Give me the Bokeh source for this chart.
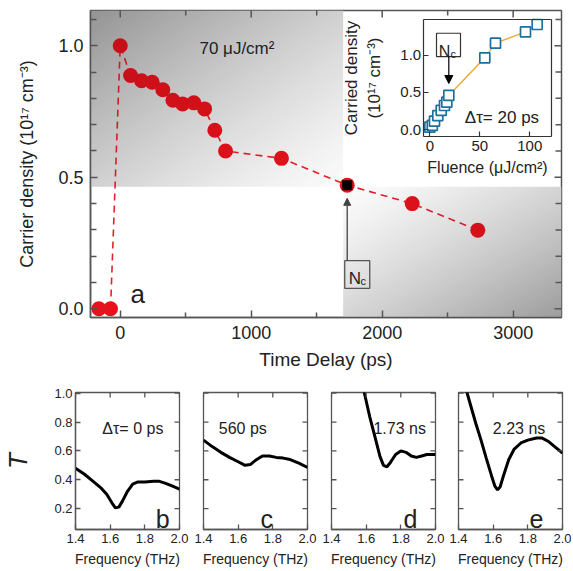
import numpy as np
from bokeh.plotting import figure
from bokeh.models import (LinearAxis, FixedTicker, PrintfTickFormatter, Range1d,
                          Label, Arrow, NormalHead)
from bokeh.layouts import column, row
from bokeh.embed import file_html
from bokeh.resources import INLINE

FONT = "Liberation Sans"
INK = "#222222"
FRAME = "#555555"

# ---------------- data ----------------
delay_ps = [-163, -74, 0, 79, 163, 244, 325, 402, 476, 562, 644, 722, 804, 1231, 1733, 2229, 2730]
carrier_density = [0.0, 0.0, 1.0, 0.887, 0.867, 0.861, 0.833, 0.793, 0.779, 0.783, 0.760,
                   0.679, 0.600, 0.572, 0.470, 0.400, 0.299]
nc_delay = [1733]
nc_density = [0.470]

fluence = [0, 2.5, 4.7, 8, 11.4, 14.7, 17, 19, 55, 65.7, 95.7, 107.4]
inset_density = [0.035, 0.06, 0.115, 0.19, 0.26, 0.325, 0.37, 0.46, 0.964, 1.16, 1.31, 1.41]

main_x_ticks = [0, 1000, 2000, 3000]
main_x_minor = [500, 1500, 2500]
main_y_ticks = [0.0, 0.5, 1.0]
main_y_minor = [0.1, 0.2, 0.3, 0.4, 0.6, 0.7, 0.8, 0.9, 1.1]
inset_x_ticks = [0, 50, 100]
inset_y_ticks = [0.0, 0.5, 1.0]

freq_b = [1.40, 1.45, 1.50, 1.55, 1.58, 1.61, 1.63, 1.65, 1.67, 1.70, 1.73, 1.76, 1.80, 1.85, 1.88, 1.92, 1.96, 2.00]
T_b = [0.48, 0.44, 0.39, 0.34, 0.30, 0.24, 0.205, 0.21, 0.25, 0.32, 0.37, 0.385, 0.385, 0.39, 0.39, 0.375, 0.355, 0.335]
freq_c = [1.40, 1.45, 1.50, 1.55, 1.60, 1.64, 1.67, 1.70, 1.74, 1.78, 1.82, 1.86, 1.90, 1.95, 2.00]
T_c = [0.675, 0.63, 0.59, 0.555, 0.525, 0.50, 0.505, 0.535, 0.565, 0.565, 0.555, 0.55, 0.54, 0.515, 0.485]
freq_d = [1.56, 1.59, 1.62, 1.65, 1.68, 1.70, 1.72, 1.74, 1.77, 1.80, 1.83, 1.86, 1.89, 1.92, 1.95, 2.00]
T_d = [1.12, 1.0, 0.84, 0.70, 0.56, 0.50, 0.49, 0.52, 0.575, 0.60, 0.59, 0.565, 0.555, 0.565, 0.575, 0.575]
freq_e = [1.43, 1.45, 1.50, 1.53, 1.56, 1.59, 1.61, 1.625, 1.64, 1.66, 1.69, 1.72, 1.76, 1.80, 1.85, 1.88, 1.92, 1.96, 2.00]
T_e = [1.12, 1.0, 0.79, 0.675, 0.55, 0.43, 0.355, 0.33, 0.35, 0.43, 0.54, 0.61, 0.655, 0.675, 0.69, 0.69, 0.665, 0.625, 0.585]

panel_times = ["\u0394\u03c4= 0 ps", "560 ps", "1.73 ns", "2.23 ns"]
panel_letters = ["b", "c", "d", "e"]
freq_ticks = [1.4, 1.6, 1.8, 2.0]
T_ticks = [0.2, 0.4, 0.6, 0.8, 1.0]


def axis(p, side, ticks, minor=(), *, fixed=None, bounds="auto", fmt=None,
         label=None, xr="default", yr="default", tick_size="16px", label_size="18px",
         standoff=5, label_standoff=5, major_in=6, minor_in=4, line_width=1.5,
         label_style="normal", color=FRAME):
    ax = LinearAxis(ticker=FixedTicker(ticks=list(ticks), minor_ticks=list(minor)),
                    x_range_name=xr, y_range_name=yr, bounds=bounds)
    if fixed is not None:
        ax.fixed_location = fixed
    ax.axis_line_color = color
    ax.axis_line_width = line_width
    ax.major_tick_in = major_in
    ax.major_tick_out = 0
    ax.minor_tick_in = minor_in
    ax.minor_tick_out = 0
    ax.major_tick_line_color = color
    ax.minor_tick_line_color = color
    ax.major_tick_line_width = line_width
    ax.minor_tick_line_width = line_width
    ax.major_label_text_font = FONT
    ax.major_label_text_font_size = tick_size
    ax.major_label_text_color = INK
    ax.major_label_standoff = standoff
    if fmt:
        ax.formatter = PrintfTickFormatter(format=fmt)
    if label:
        ax.axis_label = label
        ax.axis_label_text_font = FONT
        ax.axis_label_text_font_size = label_size
        ax.axis_label_text_color = INK
        ax.axis_label_text_font_style = label_style
        ax.axis_label_standoff = label_standoff
    p.add_layout(ax, side)
    return ax


def edge_ticks(p, values, at, vertical_edge, length, width=1.5, color=FRAME):
    """Inward mirror ticks: dash markers centred on a frame edge (outer half is clipped)."""
    if vertical_edge:
        p.scatter([at] * len(values), values, marker="dash", size=2 * length,
                  line_color=color, line_width=width)
    else:
        p.scatter(values, [at] * len(values), marker="dash", size=2 * length, angle=np.pi / 2,
                  line_color=color, line_width=width)


def shade(h, w, dark_at_top_left, light=250.0, depth=100.0, veil=0.16):
    """Returns (base grey image, dark translucent veil drawn above the markers)."""
    u = np.linspace(0, 1, w)[None, :]
    v = np.linspace(0, 1, h)[:, None]  # row 0 = bottom
    if dark_at_top_left:
        d = ((1 - u) + v) / 2
    else:
        d = (u + (1 - v)) / 2
    a = veil * d
    target = light - depth * d ** 1.3
    g = np.clip(target / (1 - a), 0, 255).astype(np.uint8)
    base = np.empty((h, w), dtype=np.uint32)
    bv = base.view(dtype=np.uint8).reshape((h, w, 4))
    bv[:, :, 0] = g
    bv[:, :, 1] = g
    bv[:, :, 2] = g
    bv[:, :, 3] = 255
    over = np.empty((h, w), dtype=np.uint32)
    ov = over.view(dtype=np.uint8).reshape((h, w, 4))
    ov[:, :, 0:3] = 0
    ov[:, :, 3] = np.clip(a * 255, 0, 255).astype(np.uint8)
    return base, over


# ---------------- main figure ----------------
MW, MH = 571, 382
MBL, MBR, MBT, MBB = 90, 10, 10, 65
X0, X1 = -227, 3369
Y0, Y1 = -0.033, 1.134
p = figure(width=MW, height=MH, x_range=Range1d(X0, X1), y_range=Range1d(Y0, Y1),
           x_axis_location=None, y_axis_location=None, toolbar_location=None,
           output_backend="svg", min_border_left=MBL, min_border_right=MBR,
           min_border_top=MBT, min_border_bottom=MBB, outline_line_color=FRAME,
           outline_line_width=1.5, background_fill_color="white", border_fill_color="white")
for g in p.grid:
    g.visible = False

# pixel geometry of the frames (page origin at 0,0)
FL, FR, FT, FB = MBL, MW - MBR, MBT, MH - MBB
IL, IR, IT, IB = 422.7, 550.7, 19.0, 136.0
IX0, IX1, IY0, IY1 = -6.6, 121.4, -0.09, 1.477
sx = (IR - IL) / (IX1 - IX0)
sy = (IB - IT) / (IY1 - IY0)
p.extra_x_ranges = {"ix": Range1d(IX0 - (IL - FL) / sx, IX1 + (FR - IR) / sx)}
p.extra_y_ranges = {"iy": Range1d(IY0 - (FB - IB) / sy, IY1 + (IT - FT) / sy)}

# background shading
SPLIT_X, SPLIT_Y = 1702, 0.464
ul_base, ul_veil = shade(180, 260, True, 250, 102)
br_base, br_veil = shade(140, 230, False, 252, 95)
p.image_rgba(image=[ul_base], x=X0, y=SPLIT_Y, dw=SPLIT_X - X0, dh=Y1 - SPLIT_Y)
p.image_rgba(image=[br_base], x=SPLIT_X, y=Y0, dw=X1 - SPLIT_X, dh=SPLIT_Y - Y0)

# main series
p.line(delay_ps, carrier_density, line_color="#e8202a", line_width=1.6, line_dash="7 5")
p.scatter(delay_ps, carrier_density, size=15, fill_color="#e6121c", line_color=None)
p.scatter(nc_delay, nc_density, marker="square", size=10, fill_color="black", line_color=None)

# translucent veil: markers look darker where the background is dark
p.image_rgba(image=[ul_veil], x=X0, y=SPLIT_Y, dw=SPLIT_X - X0, dh=Y1 - SPLIT_Y)
p.image_rgba(image=[br_veil], x=SPLIT_X, y=Y0, dw=X1 - SPLIT_X, dh=SPLIT_Y - Y0)

# main axes
axis(p, "left", main_y_ticks, main_y_minor, fmt="%.1f",
     label="Carrier density (10\u00b9\u2077 cm\u207b\u00b3)", tick_size="18px", label_size="18px",
     standoff=7, label_standoff=18, major_in=7, minor_in=6)
axis(p, "below", main_x_ticks, main_x_minor, label="Time Delay (ps)",
     tick_size="18px", label_size="19px", standoff=8, label_standoff=7, major_in=7, minor_in=5)
edge_ticks(p, main_y_ticks, X1, True, 7)
edge_ticks(p, main_y_minor, X1, True, 6)
edge_ticks(p, main_x_ticks, Y1, False, 7)
edge_ticks(p, main_x_minor, Y1, False, 5)

# main annotations
p.add_layout(Label(x=605, y=0.989, text="70 \u03bcJ/cm\u00b2", text_font=FONT,
                   text_font_size="17px", text_color=INK, text_baseline="alphabetic"))
p.add_layout(Label(x=79, y=0.057, text="a", text_font=FONT, text_font_size="26px",
                   text_color=INK, text_baseline="alphabetic"))
p.quad(left=1714, right=1905, bottom=0.078, top=0.183, fill_color=None,
       line_color=FRAME, line_width=1.3)
p.add_layout(Label(x=1745, y=0.114, text="N", text_font=FONT, text_font_size="17px",
                   text_color=INK, text_baseline="alphabetic"))
p.add_layout(Label(x=1834, y=0.104, text="c", text_font=FONT, text_font_size="11px",
                   text_color=INK, text_baseline="alphabetic"))
p.add_layout(Arrow(x_start=1733, y_start=0.183, x_end=1733, y_end=0.42,
                   line_color="#444444", line_width=1.3,
                   end=NormalHead(size=7, fill_color="#444444", line_color="#444444")))

# ---------------- inset (drawn in the main frame with its own ranges) ----------------
p.line(fluence, inset_density, x_range_name="ix", y_range_name="iy",
       line_color="#f0a830", line_width=1.4)
p.scatter(fluence, inset_density, x_range_name="ix", y_range_name="iy", marker="square",
          size=10, fill_color="white", line_color="#1f6f9c", line_width=1.7)
axis(p, "left", inset_y_ticks, xr="ix", yr="iy", fixed=IX0, bounds=(IY0, IY1),
     fmt="%.1f", label="Carried density\n(10\u00b9\u2077 cm\u207b\u00b3)",
     tick_size="15px", label_size="17px", standoff=2, label_standoff=14,
     major_in=5, minor_in=0, line_width=1.2, color="#333333")
axis(p, "below", inset_x_ticks, xr="ix", yr="iy", fixed=IY0, bounds=(IX0, IX1),
     label="Fluence (\u03bcJ/cm\u00b2)", tick_size="15px", label_size="16px",
     standoff=4, label_standoff=5, major_in=5, minor_in=0, line_width=1.2, color="#333333")
axis(p, "right", [], xr="ix", yr="iy", fixed=IX1, bounds=(IY0, IY1),
     line_width=1.2, color="#333333")
axis(p, "above", [], xr="ix", yr="iy", fixed=IY1, bounds=(IX0, IX1),
     line_width=1.2, color="#333333")
p.add_layout(Label(x=35, y=0.16, x_range_name="ix", y_range_name="iy",
                   text="\u0394\u03c4= 20 ps", text_font=FONT, text_font_size="17px",
                   text_color=INK, text_baseline="alphabetic"))
p.quad(left=6.7, right=30.7, bottom=0.981, top=1.293, x_range_name="ix", y_range_name="iy",
       fill_color="white", line_color="#333333", line_width=1.2)
p.add_layout(Label(x=9, y=1.052, x_range_name="ix", y_range_name="iy", text="N",
                   text_font=FONT, text_font_size="16px", text_color=INK,
                   text_baseline="alphabetic"))
p.add_layout(Label(x=20.7, y=1.017, x_range_name="ix", y_range_name="iy", text="c",
                   text_font=FONT, text_font_size="11px", text_color=INK,
                   text_baseline="alphabetic"))
p.add_layout(Arrow(x_start=19, y_start=0.981, x_end=19, y_end=0.62,
                   x_range_name="ix", y_range_name="iy", line_color="black", line_width=1.2,
                   end=NormalHead(size=8, fill_color="black", line_color="black")))

# ---------------- bottom panels ----------------
BH = 569 - MH
FX0, FX1, FY0, FY1 = 1.4, 2.0, 0.055, 1.005
panel_data = [(freq_b, T_b), (freq_c, T_c), (freq_d, T_d), (freq_e, T_e)]
panel_widths = [191, 128, 127, 125]
panel_borders = [(75, 12), (12, 12), (12, 11), (12, 9)]
time_x = [1.555, 1.488, 1.642, 1.598]
letter_x = [1.903, 1.765, 1.856, 1.85]
panels = []
for i, ((fq, tr), w, (bl, br)) in enumerate(zip(panel_data, panel_widths, panel_borders)):
    q = figure(width=w, height=BH, x_range=Range1d(FX0, FX1), y_range=Range1d(FY0, FY1),
               x_axis_location=None, y_axis_location=None, toolbar_location=None,
               output_backend="svg", min_border_left=bl, min_border_right=br,
               min_border_top=10, min_border_bottom=BH - 10 - 137,
               outline_line_color=FRAME, outline_line_width=1.3,
               background_fill_color="white", border_fill_color="white")
    for g in q.grid:
        g.visible = False
    q.line(fq, tr, line_color="black", line_width=3)
    axis(q, "below", freq_ticks, fmt="%.1f", label="Frequency (THz)",
         tick_size="13px", label_size="14px", standoff=4, label_standoff=5,
         major_in=5, minor_in=0, line_width=1.3)
    edge_ticks(q, freq_ticks, FY1, False, 5, 1.3)
    if i == 0:
        axis(q, "left", T_ticks, fmt="%.1f", label="T", tick_size="13px",
             label_size="26px", standoff=3, label_standoff=18, major_in=5, minor_in=0,
             line_width=1.3, label_style="italic")
    else:
        edge_ticks(q, T_ticks, FX0, True, 5, 1.3)
    edge_ticks(q, T_ticks, FX1, True, 5, 1.3)
    q.add_layout(Label(x=time_x[i], y=0.755, text=panel_times[i], text_font=FONT,
                       text_font_size="16px", text_color=INK, text_baseline="alphabetic"))
    q.add_layout(Label(x=letter_x[i], y=0.125, text=panel_letters[i], text_font=FONT,
                       text_font_size="25px", text_color=INK, text_align="center",
                       text_baseline="alphabetic"))
    panels.append(q)

layout = column(p, row(*panels))
open("out.html", "w").write(file_html(layout, INLINE))
